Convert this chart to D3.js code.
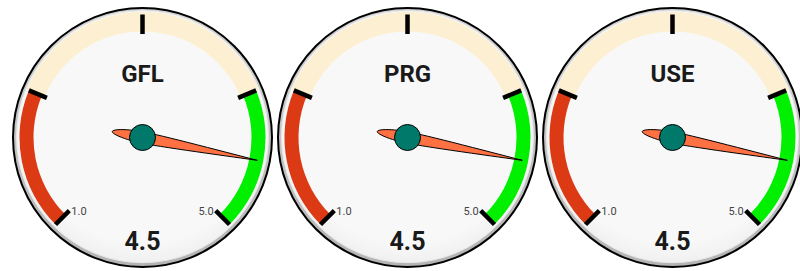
<!DOCTYPE html>
<html>
<head>
<meta charset="utf-8">
<script src="https://cdn.jsdelivr.net/npm/d3@7"></script>
<style>
html,body{margin:0;padding:0;background:#fff;}
svg{display:block;}
text{font-family:Roboto,"Noto Sans",sans-serif;}
</style>
</head>
<body>
<svg id="chart" width="800" height="271"></svg>
<script>
// ---- data ----
const titles = ["GFL", "PRG", "USE"];
const values = [4.5, 4.5, 4.5];
const minValue = 1;
const maxValue = 5;
const majorTicks = [1, 2, 3, 4, 5];
const tickLabels = [1, 5];
const bandFrom = [1, 2, 4];
const bandTo = [2, 4, 5];
const bandColors = ["#db3a14", "#fdf0d2", "#00f000"];

// ---- layout ----
const W = 800, H = 271;
const R = 129.5;
const cy = 137.5;
const gaugeX = d3.scalePoint().domain(titles).range([142.5, 672.5]);
const angle = d3.scaleLinear().domain([minValue, maxValue]).range([-135, 135]);
const rad = d => d * Math.PI / 180;
const pt = (deg, r) => [r * Math.sin(rad(deg)), -r * Math.cos(rad(deg))];
const fmt = d3.format(".1f");

const svg = d3.select("#chart");
const defs = svg.append("defs");
const rimGrad = defs.append("linearGradient").attr("id", "rim")
  .attr("x1", 0).attr("y1", 0).attr("x2", 0).attr("y2", 1);
rimGrad.append("stop").attr("offset", "0%").attr("stop-color", "#d2d2d2");
rimGrad.append("stop").attr("offset", "100%").attr("stop-color", "#b4b4b4");
const faceGrad = defs.append("radialGradient").attr("id", "face")
  .attr("cx", "50%").attr("cy", "45%").attr("r", "55%");
faceGrad.append("stop").attr("offset", "86%").attr("stop-color", "#f8f8f8");
faceGrad.append("stop").attr("offset", "100%").attr("stop-color", "#f0f0f0");

const bandOuter = [123, 125.5, 123];
const bandInner = [109, 106, 109];

titles.forEach((t, i) => {
  const g = svg.append("g").attr("transform", `translate(${gaugeX(t)},${cy})`);
  g.append("circle").attr("r", R).attr("fill", "url(#rim)").attr("stroke", "#000").attr("stroke-width", 2);
  g.append("circle").attr("r", R - 3.5).attr("cy", -0.8).attr("fill", "url(#face)").attr("stroke", "#e8e8e8").attr("stroke-width", 1);

  bandFrom.forEach((f, j) => {
    const arc = d3.arc()
      .innerRadius(bandInner[j]).outerRadius(bandOuter[j])
      .startAngle(rad(angle(f))).endAngle(rad(angle(bandTo[j])));
    g.append("path").attr("d", arc()).attr("fill", bandColors[j]);
  });

  majorTicks.forEach(v => {
    const a = angle(v);
    const p1 = pt(a, 103.5), p2 = pt(a, 123);
    g.append("line").attr("x1", p1[0]).attr("y1", p1[1]).attr("x2", p2[0]).attr("y2", p2[1])
      .attr("stroke", "#000").attr("stroke-width", 4.5);
  });

  tickLabels.forEach(v => {
    const a = angle(v);
    const p = pt(a, 103.5);
    g.append("text").attr("x", p[0] + (v === minValue ? 2 : -2)).attr("y", p[1] + 4)
      .attr("text-anchor", v === minValue ? "start" : "end")
      .attr("font-size", 11).attr("fill", "#444").text(fmt(v));
  });

  g.append("text").attr("x", 0).attr("y", -55.5).attr("text-anchor", "middle")
    .attr("font-size", 24).attr("font-weight", "bold").attr("fill", "#1a1a1a").text(t);

  g.append("text").attr("x", 0).attr("y", 112.5).attr("text-anchor", "middle")
    .attr("font-size", 25).attr("font-weight", "bold").attr("fill", "#1a1a1a").text(fmt(values[i]));

  // needle
  const th = angle(values[i]);
  const delta = 270 / 13;
  const head = pt(th, 117);
  const head1 = pt(th - delta, 16.5), head2 = pt(th + delta, 16.5);
  const tail = pt(th + 180, 38.5);
  const tail1 = pt(th + 180 - delta, 16.5), tail2 = pt(th + 180 + delta, 16.5);
  const line = d3.line().curve(d3.curveBasis);
  g.append("path").attr("d", line([head, head1, tail2, tail, tail1, head2, head]))
    .attr("fill", "#ff7043").attr("stroke", "#000").attr("stroke-width", 1);
  g.append("circle").attr("r", 13).attr("fill", "#00796b").attr("stroke", "#000").attr("stroke-width", 1);
});
</script>
</body>
</html>
